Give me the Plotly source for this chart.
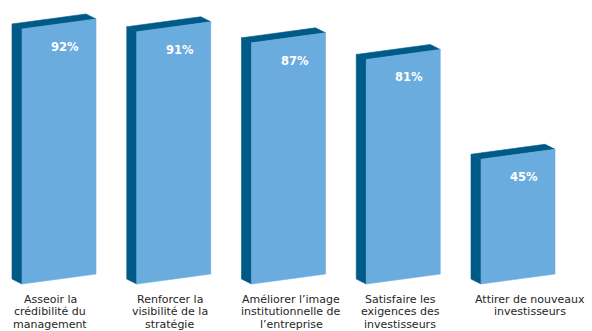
import plotly.graph_objects as go

# Survey results: reasons cited, share of respondents (%)
categories = [
    "Asseoir la<br>crédibilité du<br>management",
    "Renforcer la<br>visibilité de la<br>stratégie",
    "Améliorer l’image<br>institutionnelle de<br>l’entreprise",
    "Satisfaire les<br>exigences des<br>investisseurs",
    "Attirer de nouveaux<br>investisseurs",
]
values = [92, 91, 87, 81, 45]
value_labels = ["92%", "91%", "87%", "81%", "45%"]

# Styling / geometry of the pseudo-3D bars
FRONT = "#6aacde"
DARK = "#005a88"
TEXT = "#262626"
W, H = 592, 331
PX_PER_CAT = 114.75          # horizontal pixels per category
PX_PER_PCT = 2.772           # vertical pixels per percentage point
X0_PX, BASE_PX = 59, 284     # centre of first bar front, baseline (px from top)
BAR_W = 74 / PX_PER_CAT      # front-face width (category units)
SHEAR = 10 / PX_PER_PCT      # rise of front face across its width (pct units)
DX = -10 / PX_PER_CAT        # depth offset (x)
DY = 5 / PX_PER_PCT          # depth offset (y)

x_range = [-X0_PX / PX_PER_CAT, (W - X0_PX) / PX_PER_CAT]
y_range = [(BASE_PX - H) / PX_PER_PCT, BASE_PX / PX_PER_PCT]

fig = go.Figure()


def poly(xs, ys, color):
    fig.add_trace(go.Scatter(
        x=xs + [xs[0]], y=ys + [ys[0]], mode="lines", fill="toself",
        fillcolor=color, line=dict(color=color, width=0.6),
        hoverinfo="skip", showlegend=False,
    ))


for i, v in enumerate(values):
    xl, xr = i - BAR_W / 2, i + BAR_W / 2
    # left side face
    poly([xl, xl, xl + DX, xl + DX], [0, v, v + DY, DY], DARK)
    # top face
    poly([xl, xr, xr + DX, xl + DX], [v, v + SHEAR, v + SHEAR + DY, v + DY], DARK)
    # front face
    poly([xl, xr, xr, xl], [0, SHEAR, v + SHEAR, v], FRONT)

annotations = []
for i, (v, lab) in enumerate(zip(values, value_labels)):
    annotations.append(dict(
        x=i, y=v, xref="x", yref="y", text=lab, showarrow=False,
        xshift=6, yshift=-18, xanchor="center", yanchor="middle",
        font=dict(family="DejaVu Sans", size=11.5, color="white", weight=700),
    ))

label_shift = [-9, -4, 2.5, -3, 12]
for i, cat in enumerate(categories):
    for j, line in enumerate(cat.split("<br>")):
        annotations.append(dict(
            x=i, y=0, xref="x", yref="y", text=line, showarrow=False,
            xshift=label_shift[i], yshift=-(15 + 12.9 * j),
            xanchor="center", yanchor="middle", borderpad=0,
            font=dict(family="DejaVu Sans", size=11, color=TEXT),
        ))

fig.update_layout(
    width=W, height=H,
    margin=dict(l=0, r=0, t=0, b=0),
    paper_bgcolor="white", plot_bgcolor="white",
    xaxis=dict(range=x_range, visible=False, fixedrange=True),
    yaxis=dict(range=y_range, visible=False, fixedrange=True),
    annotations=annotations,
    showlegend=False,
)

fig.write_html("out.html")
